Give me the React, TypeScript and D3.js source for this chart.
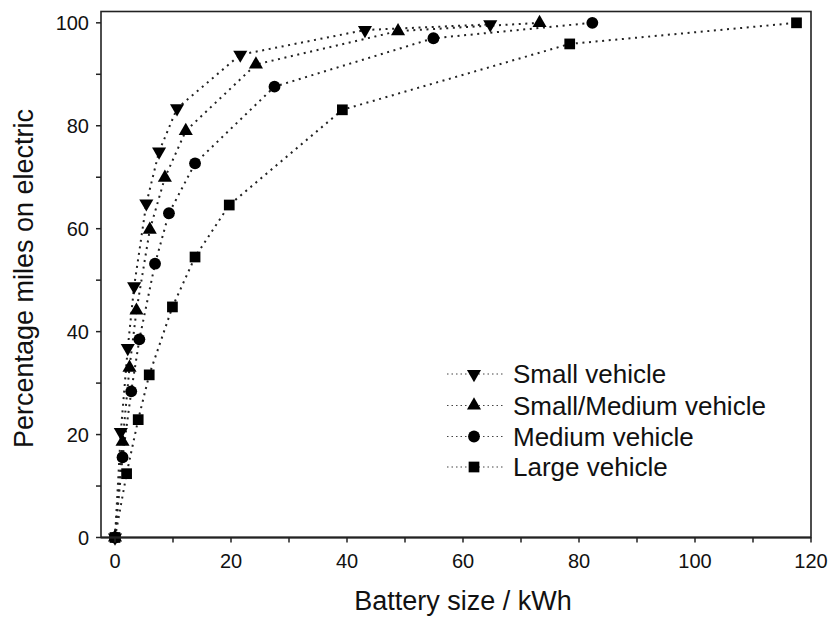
import React from 'react';
import * as d3 from 'd3';

// battery size (kWh) vs % miles on electric
const smallX = [0, 1.0, 2.2, 3.3, 5.4, 7.6, 10.7, 21.6, 43.1, 64.7];
const smallY = [0, 20.5, 36.8, 48.8, 64.9, 75.0, 83.4, 93.8, 98.6, 99.7];
const smallMedX = [0, 1.3, 2.5, 3.7, 6.0, 8.6, 12.2, 24.3, 48.8, 73.2];
const smallMedY = [0, 18.6, 33.0, 44.1, 59.8, 69.9, 79.0, 91.9, 98.4, 100];
const mediumX = [0, 1.3, 2.8, 4.2, 6.9, 9.3, 13.8, 27.5, 54.9, 82.3];
const mediumY = [0, 15.6, 28.4, 38.5, 53.2, 63.0, 72.7, 87.6, 97.0, 100];
const largeX = [0, 2.0, 4.0, 5.9, 9.9, 13.8, 19.7, 39.2, 78.4, 117.5];
const largeY = [0, 12.4, 22.9, 31.6, 44.8, 54.5, 64.6, 83.1, 95.9, 100];

const seriesNames = ['Small vehicle', 'Small/Medium vehicle', 'Medium vehicle', 'Large vehicle'];
const xTicks = [0, 20, 40, 60, 80, 100, 120];
const xMinor = [10, 30, 50, 70, 90, 110];
const yTicks = [0, 20, 40, 60, 80, 100];
const yMinor = [10, 30, 50, 70, 90];

const W = 830;
const H = 618;
const left = 101, right = 811, top = 11.5, bottom = 537.5;
const font = '"Liberation Sans", Arial, sans-serif';

const x = d3.scaleLinear().domain([-2.414, 120]).range([left, right]);
const y = d3.scaleLinear().domain([0, 102.2]).range([bottom, top]);

type Marker = 'down' | 'up' | 'circle' | 'square';

const markerPath = (m: Marker) => {
  if (m === 'circle') return d3.symbol(d3.symbolCircle, 110)()!;
  if (m === 'square') return d3.symbol(d3.symbolSquare, 115)()!;
  return d3.symbol(d3.symbolTriangle, 86)()!;
};

const series = [
  { name: seriesNames[0], xs: smallX, ys: smallY, marker: 'down' as Marker },
  { name: seriesNames[1], xs: smallMedX, ys: smallMedY, marker: 'up' as Marker },
  { name: seriesNames[2], xs: mediumX, ys: mediumY, marker: 'circle' as Marker },
  { name: seriesNames[3], xs: largeX, ys: largeY, marker: 'square' as Marker },
];

const line = d3.line<[number, number]>().x(d => x(d[0])).y(d => y(d[1]));

const Sym = ({ m, cx, cy }: { m: Marker; cx: number; cy: number }) => (
  <path
    d={markerPath(m)}
    transform={`translate(${cx},${cy})${m === 'down' ? ' rotate(180)' : ''}`}
    fill="#000"
  />
);

export default function App() {
  const legendX = 447;
  const legendY = [374, 405.5, 436.5, 467];
  return (
    <svg width={W} height={H} style={{ position: 'absolute', left: 0, top: 0, background: '#fff' }}
      fontFamily={font}>
      {series.map(s => (
        <path key={s.name + 'l'}
          d={line(s.xs.map((v, i) => [v, s.ys[i]] as [number, number]))!}
          fill="none" stroke="#222" strokeWidth={2} strokeDasharray="2 4.6" />
      ))}
      {series.map(s => (
        <g key={s.name + 'm'}>
          {s.xs.map((v, i) => <Sym key={i} m={s.marker} cx={x(v)} cy={y(s.ys[i])} />)}
        </g>
      ))}

      {/* frame */}
      <rect x={left} y={top} width={right - left} height={bottom - top}
        fill="none" stroke="#222" strokeWidth={1.6} />
      <line x1={left} x2={right} y1={bottom} y2={bottom} stroke="#222" strokeWidth={2} />

      {/* x axis */}
      {xTicks.concat(xMinor).map(t => (
        <line key={'xt' + t} x1={x(t)} x2={x(t)} y1={bottom} y2={bottom + 5} stroke="#222" strokeWidth={1.5} />
      ))}
      {xTicks.map(t => (
        <text key={'xl' + t} x={x(t)} y={bottom + 30} textAnchor="middle" fontSize={20} fill="#111">{t}</text>
      ))}
      {/* y axis */}
      {yTicks.concat(yMinor).map(t => (
        <line key={'yt' + t} x1={left - 5} x2={left} y1={y(t)} y2={y(t)} stroke="#222" strokeWidth={1.5} />
      ))}
      {yTicks.map(t => (
        <text key={'yl' + t} x={left - 12} y={y(t) + 7} textAnchor="end" fontSize={20} fill="#111">{t}</text>
      ))}

      <text x={x(60)} y={610} textAnchor="middle" fontSize={27} fill="#111">Battery size / kWh</text>
      <text transform={`translate(33,${(top + bottom) / 2 + 4}) rotate(-90)`} textAnchor="middle"
        fontSize={27} fill="#111">Percentage miles on electric</text>

      {/* legend */}
      {series.map((s, i) => (
        <g key={s.name + 'lg'}>
          <line x1={legendX} x2={legendX + 58} y1={legendY[i]} y2={legendY[i]}
            stroke="#444" strokeWidth={1.2} strokeDasharray="1.5 3" />
          <Sym m={s.marker} cx={legendX + 27} cy={legendY[i]} />
          <text x={legendX + 66} y={legendY[i] + 9} fontSize={26} fill="#111">{s.name}</text>
        </g>
      ))}
    </svg>
  );
}
